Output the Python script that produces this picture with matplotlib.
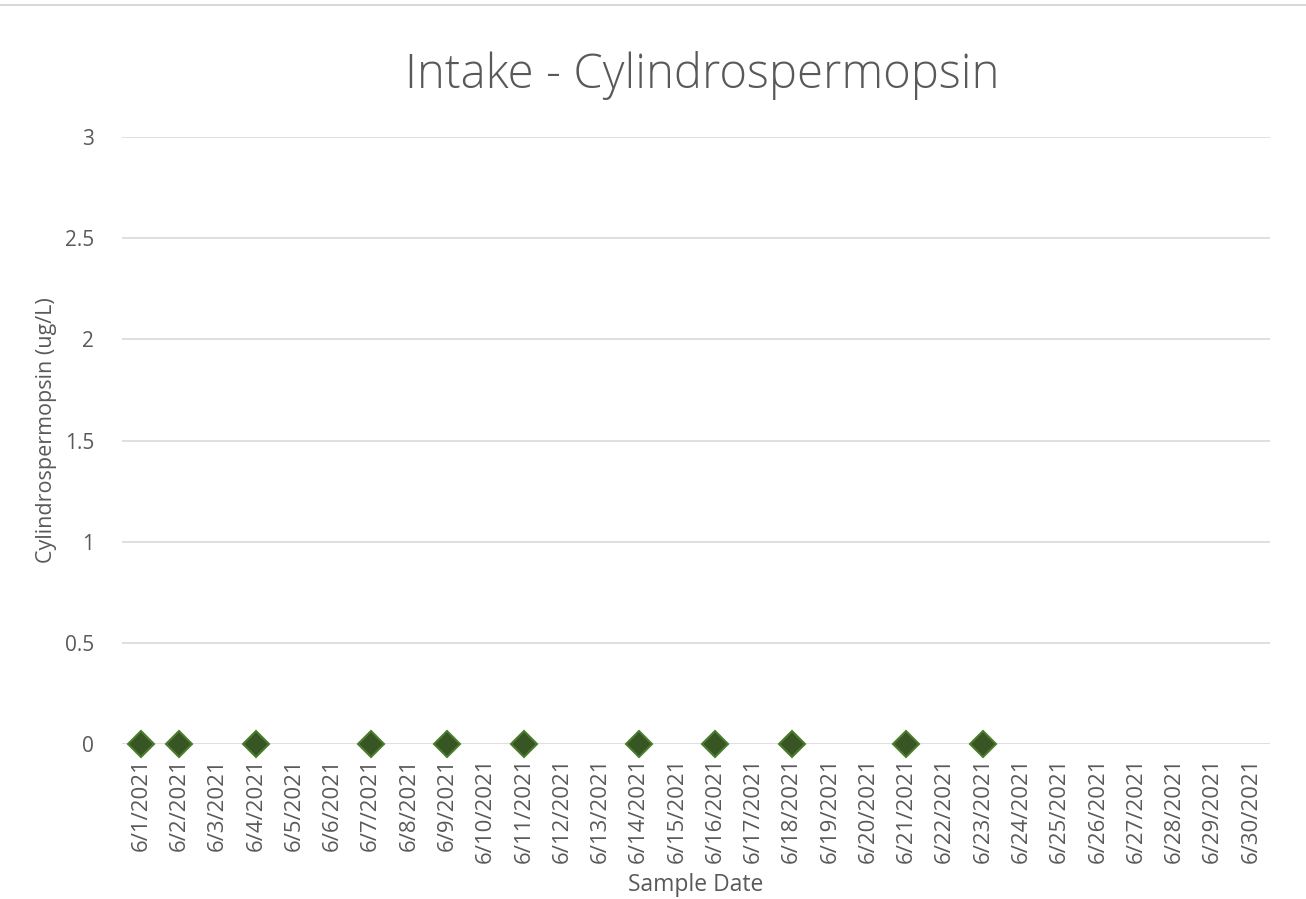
import matplotlib.pyplot as plt
from matplotlib.lines import Line2D

dates = [f'6/{d}/2021' for d in range(1, 31)]
sample_days = [1, 2, 4, 7, 9, 11, 14, 16, 18, 21, 23]
values = [0, 0, 0, 0, 0, 0, 0, 0, 0, 0, 0]
yticks = [0, 0.5, 1, 1.5, 2, 2.5, 3]

plt.rcParams['font.family'] = ['Open Sans', 'DejaVu Sans']
gray = '#595959'

fig = plt.figure(figsize=(13.06, 8.99), dpi=100)
ax = fig.add_axes([0.0934, 0.1724, 0.8790, 0.6752])

x = [d - 1 for d in sample_days]
ax.plot(x, values, linestyle='none', marker='D', markersize=13,
        markerfacecolor='#375623', markeredgecolor='#4b7c2d', markeredgewidth=1.5,
        zorder=3, clip_on=False)

ax.set_xlim(-0.5, len(dates) - 0.5)
ax.set_ylim(0, 3)
ax.set_xticks(range(len(dates)))
ax.set_xticklabels(dates, rotation=90, fontsize=16, color=gray)
ax.set_yticks(yticks)
ax.set_yticklabels([f'{v:g}' for v in yticks], fontsize=15, color=gray)
ax.tick_params(axis='x', length=0, pad=10)
ax.tick_params(axis='y', length=0, pad=20)
ax.grid(axis='y', color='#d9d9d9', linewidth=1.2)
ax.set_axisbelow(True)
for s in ax.spines.values():
    s.set_visible(False)

fig.text(0.538, 1 - 75 / 899, 'Intake - Cylindrospermopsin', fontsize=34, color=gray,
         fontweight='light', ha='center', va='center')
ax.set_xlabel('Sample Date', fontsize=16.5, color=gray)
ax.xaxis.set_label_coords(0.5, -0.2125)
ax.set_ylabel('Cylindrospermopsin (ug/L)', fontsize=15.5, color=gray)
ax.yaxis.set_label_coords(-0.057, 0.517)

fig.add_artist(Line2D([0, 1], [1 - 5 / 899, 1 - 5 / 899], color='#d9d9d9', linewidth=1.5))

fig.savefig('out.png', dpi=100)
